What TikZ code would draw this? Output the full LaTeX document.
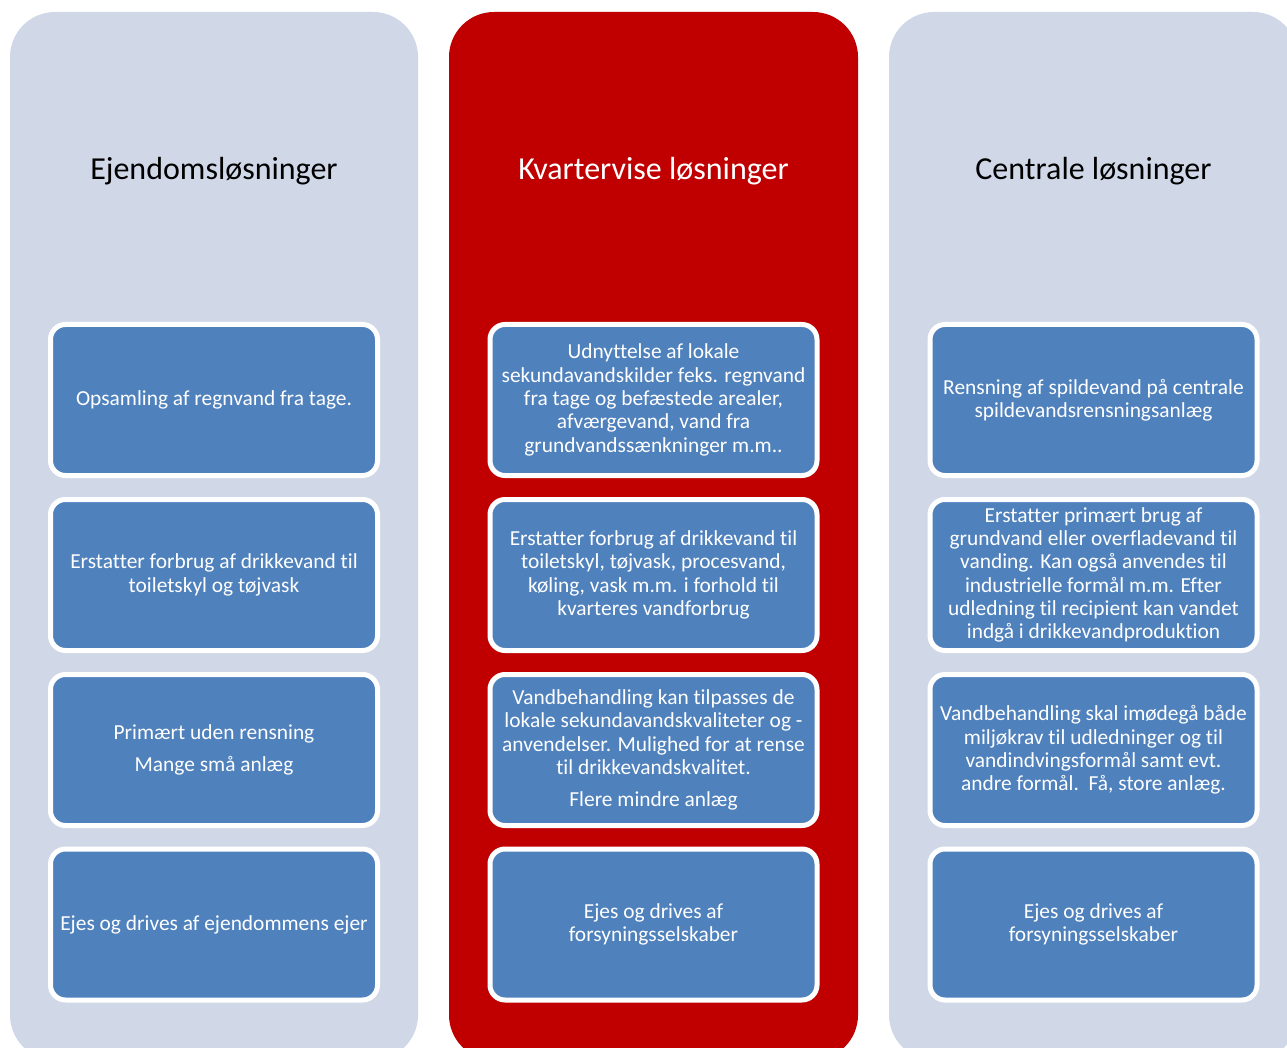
\documentclass[tikz,border=0pt]{standalone}
\usepackage{fontspec}
\setmainfont{Carlito}[Ligatures=NoCommon]
\definecolor{colbg}{HTML}{D0D8E8}
\definecolor{colred}{HTML}{C00000}
\definecolor{boxblue}{HTML}{4F81BD}
\begin{document}
\begin{tikzpicture}[x=1pt,y=-1pt,
  column/.style={rounded corners=45pt},
  cardbox/.style={draw=white, line width=5pt, fill=boxblue, rounded corners=15pt,
    minimum width=327pt, minimum height=151pt, inner sep=0pt, text=white,
    font=\fontsize{21.4}{23.3}\selectfont, align=center},
  heading/.style={font=\fontsize{32}{38}\selectfont, inner sep=0pt}]
\useasboundingbox (0,0) rectangle (1287,1048);
\clip (0,0) rectangle (1287,1048);

% column backgrounds
\fill[colbg, column] (10,12) rectangle (418,1060);
\fill[colred, column] (449,12) rectangle (858,1060);
\fill[colbg, column] (889,12) rectangle (1298,1060);

% headings
\node[heading] (h1) at (214,171) {Ejendomsløsninger};
\node[heading, text=white] (h2) at (653.5,171) {Kvartervise løsninger};
\node[heading] (h3) at (1093.5,171) {Centrale løsninger};

% left column
\node[cardbox] (a1) at (214,400) {Opsamling af regnvand fra tage.};
\node[cardbox] (a2) at (214,575) {Erstatter forbrug af drikkevand til\\toiletskyl og tøjvask};
\node[cardbox] (a3) at (214,750) {Primært uden rensning\\[9pt]Mange små anlæg};
\node[cardbox] (a4) at (214,924.5) {Ejes og drives af ejendommens ejer};

% middle column
\node[cardbox] (b1) at (653.5,400) {Udnyttelse af lokale\\sekundavandskilder feks. regnvand\\fra tage og befæstede arealer,\\afværgevand, vand fra\\grundvandssænkninger m.m..};
\node[cardbox] (b2) at (653.5,575) {Erstatter forbrug af drikkevand til\\toiletskyl, tøjvask, procesvand,\\køling, vask m.m. i forhold til\\kvarteres vandforbrug};
\node[cardbox] (b3) at (653.5,750) {Vandbehandling kan tilpasses de\\lokale sekundavandskvaliteter og -\\anvendelser. Mulighed for at rense\\til drikkevandskvalitet.\\[9pt]Flere mindre anlæg};
\node[cardbox] (b4) at (653.5,924.5) {Ejes og drives af\\forsyningsselskaber};

% right column
\node[cardbox] (c1) at (1093.5,400) {Rensning af spildevand på centrale\\spildevandsrensningsanlæg};
\node[cardbox] (c2) at (1093.5,575) {Erstatter primært brug af\\grundvand eller overfladevand til\\vanding. Kan også anvendes til\\industrielle formål m.m. Efter\\udledning til recipient kan vandet\\indgå i drikkevandproduktion};
\node[cardbox] (c3) at (1093.5,750) {Vandbehandling skal imødegå både\\miljøkrav til udledninger og til\\vandindvingsformål samt evt.\\andre formål.\ \ Få, store anlæg.};
\node[cardbox] (c4) at (1093.5,924.5) {Ejes og drives af\\forsyningsselskaber};
\end{tikzpicture}
\end{document}
